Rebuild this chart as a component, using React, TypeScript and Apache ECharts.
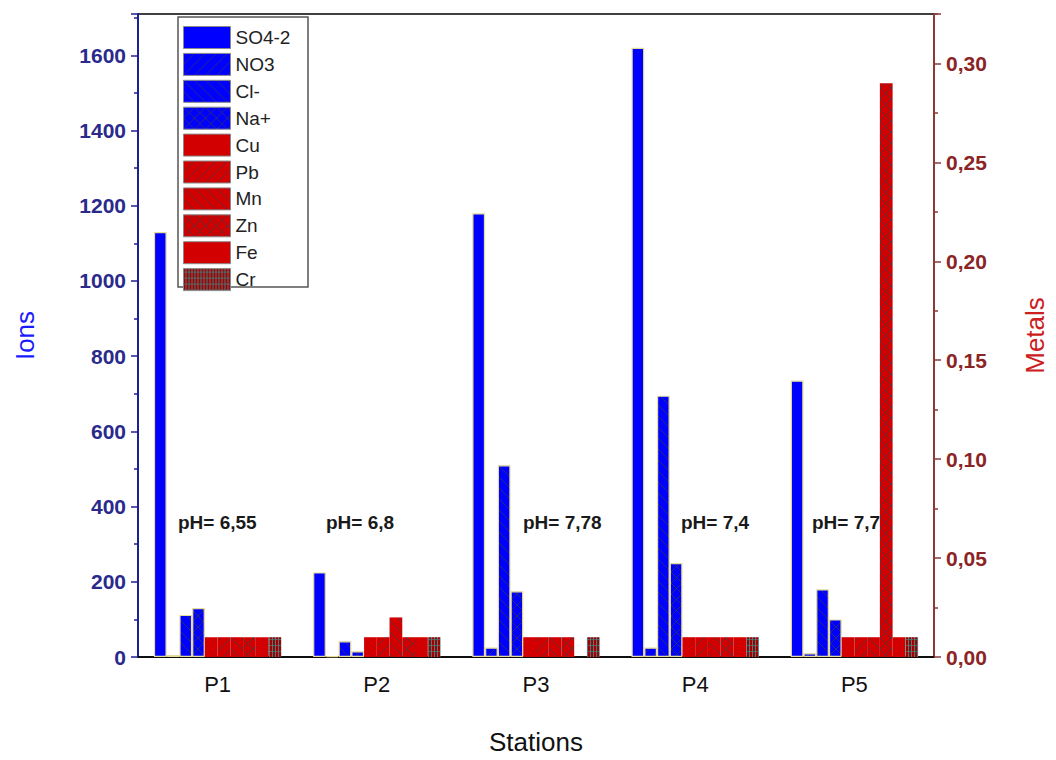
import React, { useEffect, useRef } from "react";
import * as echarts from "echarts";

// ---------- data ----------
const stations = ["P1", "P2", "P3", "P4", "P5"];

const ionNames = ["SO4-2", "NO3", "Cl-", "Na+"];
const so4 = [1130, 225, 1180, 1620, 735];
const no3 = [5, 2, 25, 25, 10];
const cl = [112, 42, 510, 695, 180];
const na = [130, 15, 175, 250, 100];

const metalNames = ["Cu", "Pb", "Mn", "Zn", "Fe", "Cr"];
const cu = [0.01, 0.01, 0.01, 0.01, 0.01];
const pb = [0.01, 0.01, 0.01, 0.01, 0.01];
const mn = [0.01, 0.02, 0.01, 0.01, 0.01];
const zn = [0.01, 0.01, 0.01, 0.01, 0.29];
const fe = [0.01, 0.01, 0, 0.01, 0.01];
const cr = [0.01, 0.01, 0.01, 0.01, 0.01];

const phLabels = ["pH= 6,55", "pH= 6,8", "pH= 7,78", "pH= 7,4", "pH= 7,7"];

const ionTicks = [0, 200, 400, 600, 800, 1000, 1200, 1400, 1600];
const metalTicks = [0, 0.05, 0.1, 0.15, 0.2, 0.25, 0.3];

// ---------- layout / style ----------
const FONT = "'Liberation Sans', Arial, Helvetica, sans-serif";
const BLUE = "#0000ff";
const RED = "#d20000";
const phX = [178, 326, 523, 681, 812];
const phY = 522;

type Kind = "solid" | "fwd" | "back" | "cross" | "grid";

function makeFill(base: string, kind: Kind): any {
  if (kind === "solid") return base;
  const s = kind === "grid" ? 6 : 11;
  const c = document.createElement("canvas");
  c.width = s;
  c.height = s;
  const g = c.getContext("2d")!;
  g.fillStyle = base;
  g.fillRect(0, 0, s, s);
  g.lineWidth = 1;
  if (kind === "grid") {
    g.fillStyle = "rgba(70,130,130,0.95)";
    g.fillRect(2, 0, 1, s);
    g.fillRect(5, 0, 1, s);
    g.fillStyle = "rgba(70,130,130,0.7)";
    g.fillRect(0, 3, s, 1);
  } else {
    g.strokeStyle = "rgba(60,60,70,0.7)";
    g.beginPath();
    for (const k of [-s, 0, s]) {
      if (kind === "fwd" || kind === "cross") {
        g.moveTo(k, s);
        g.lineTo(k + s, 0);
      }
      if (kind === "back" || kind === "cross") {
        g.moveTo(k, 0);
        g.lineTo(k + s, s);
      }
    }
    g.stroke();
  }
  return {
    image: c.toDataURL(),
    repeat: "repeat",
    imageWidth: s,
    imageHeight: s,
  };
}

export default function App() {
  const ref = useRef<HTMLDivElement>(null);

  useEffect(() => {
    if (!ref.current) return;
    const chart = echarts.init(ref.current, null, { renderer: "svg" });

    const ionData = [so4, no3, cl, na];
    const ionKinds: Kind[] = ["solid", "fwd", "back", "cross"];
    const metalData = [cu, pb, mn, zn, fe, cr];
    const metalKinds: Kind[] = ["solid", "fwd", "back", "cross", "solid", "grid"];
    const metalBase = [RED, RED, RED, RED, RED, "#a00000"];

    const series: any[] = [];
    ionNames.forEach((name, i) => {
      series.push({
        name,
        type: "bar",
        xAxisIndex: 0,
        yAxisIndex: 0,
        data: ionData[i],
        barGap: "0%",
        barCategoryGap: "20%",
        itemStyle: {
          color: makeFill(BLUE, ionKinds[i]),
          borderColor: "#e6dc9a",
          borderWidth: 1.2,
        },
      });
    });
    metalNames.forEach((name, i) => {
      series.push({
        name,
        type: "bar",
        xAxisIndex: 0,
        yAxisIndex: 1,
        data: metalData[i],
        barGap: "0%",
        barCategoryGap: "20%",
        itemStyle: {
          color: makeFill(metalBase[i], metalKinds[i]),
          borderColor: "#7a9a9a",
          borderWidth: 0,
        },
      });
    });

    const option: any = {
      animation: false,
      backgroundColor: "#ffffff",
      textStyle: { fontFamily: FONT },
      grid: {
        left: 138,
        right: 118,
        top: 14,
        bottom: 99,
        show: true,
        borderColor: "#000",
        borderWidth: 1.5,
        backgroundColor: "transparent",
      },
      legend: {
        orient: "vertical",
        left: 183,
        top: 26,
        padding: 0,
        itemWidth: 47,
        itemHeight: 22,
        itemGap: 3.9,
        icon: "rect",
        selectedMode: false,
        z: 10,
        data: [...ionNames, ...metalNames],
        itemStyle: { borderWidth: 1, borderColor: "#8a8a8a" },
        textStyle: { fontFamily: FONT, fontSize: 19, lineHeight: 20, color: "#222" },
      },
      xAxis: [
        {
          type: "category",
          data: stations,
          position: "bottom",
          boundaryGap: true,
          axisLine: { lineStyle: { color: "#000", width: 1.5 } },
          axisTick: {
            alignWithLabel: true,
            length: 7,
            lineStyle: { color: "#000", width: 1.5 },
          },
          axisLabel: {
            fontFamily: FONT,
            fontSize: 22,
            color: "#111",
            margin: 16,
          },
          name: "Stations",
          nameLocation: "middle",
          nameGap: 72,
          nameTextStyle: { fontFamily: FONT, fontSize: 26, color: "#111" },
        },
        {
          type: "category",
          data: stations,
          position: "bottom",
          boundaryGap: true,
          axisLine: { show: false },
          axisTick: { length: 4, lineStyle: { color: "#000", width: 1.5 } },
          axisLabel: { show: false },
        },
      ],
      yAxis: [
        {
          type: "value",
          position: "left",
          min: ionTicks[0],
          max: 1710,
          interval: ionTicks[1] - ionTicks[0],
          splitLine: { show: false },
          axisLine: { show: true, lineStyle: { color: "#1f1f94", width: 2 } },
          axisTick: { show: true, length: 7, lineStyle: { color: "#1f1f94", width: 1.5 } },
          minorTick: { show: true, splitNumber: 2, length: 4, lineStyle: { color: "#1f1f94", width: 1.5 } },
          axisLabel: {
            fontFamily: FONT,
            fontSize: 21,
            fontWeight: "bold",
            color: "#2a2a8c",
            margin: 12,
            showMaxLabel: false,
            formatter: (v: number) => (ionTicks.includes(v) ? String(v) : ""),
          },
          name: "Ions",
          nameLocation: "middle",
          nameRotate: 90,
          nameGap: 100,
          nameTextStyle: { fontFamily: FONT, fontSize: 26, color: "#1a1aff" },
        },
        {
          type: "value",
          position: "right",
          min: metalTicks[0],
          max: 0.325,
          interval: 0.05,
          splitLine: { show: false },
          axisLine: { show: true, lineStyle: { color: "#8b3a3a", width: 2 } },
          axisTick: { show: true, length: 7, lineStyle: { color: "#8b3a3a", width: 1.5 } },
          minorTick: { show: true, splitNumber: 2, length: 4, lineStyle: { color: "#8b3a3a", width: 1.5 } },
          axisLabel: {
            fontFamily: FONT,
            fontSize: 21,
            fontWeight: "bold",
            color: "#8b2525",
            margin: 12,
            showMaxLabel: false,
            formatter: (v: number) =>
              metalTicks.some((t) => Math.abs(t - v) < 1e-9) ? v.toFixed(2).replace(".", ",") : "",
          },
          name: "Metals",
          nameLocation: "middle",
          nameRotate: 90,
          nameGap: 88,
          nameTextStyle: { fontFamily: FONT, fontSize: 26, color: "#cc2020" },
        },
      ],
      graphic: [
        {
          type: "rect",
          x: 178,
          y: 17,
          z: 5,
          shape: { x: 0, y: 0, width: 130, height: 270 },
          style: { fill: "#ffffff", stroke: "#555", lineWidth: 1.5 },
        },
        ...phLabels.map((t, i) => ({
          type: "text",
          x: phX[i],
          y: phY,
          z: 6,
          style: {
            text: t,
            fontFamily: FONT,
            fontSize: 19,
            fontWeight: "bold",
            fill: "#1a1a1a",
            verticalAlign: "middle",
          },
        })),
      ],
      series,
    };

    chart.setOption(option);
    return () => chart.dispose();
  }, []);

  return (
    <div
      ref={ref}
      style={{ position: "fixed", left: 0, top: 0, width: 1056, height: 760, background: "#fff" }}
    />
  );
}
